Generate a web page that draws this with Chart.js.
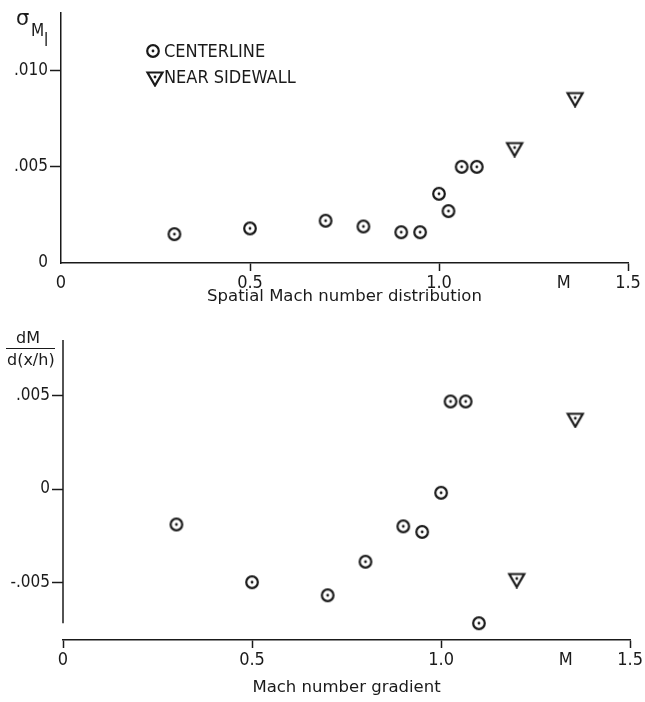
<!DOCTYPE html>
<html>
<head>
<meta charset="utf-8">
<script src="https://cdn.jsdelivr.net/npm/chart.js@4.4.0/dist/chart.umd.min.js"></script>
<style>
  body { margin: 0; background: #fff; width: 645px; height: 702px; position: relative; overflow: hidden; color: #1a1a1a; }
  canvas { position: absolute; left: 0; }
  #top { top: 0; }
  #bot { top: 320px; }
  .lab { position: absolute; white-space: nowrap; line-height: 1; font-family: "DejaVu Sans"; }
</style>
</head>
<body>
<canvas id="top" width="645" height="320"></canvas>
<canvas id="bot" width="645" height="382"></canvas>

<!-- etiquetas de los ejes y -->
<div class="lab" style="left:16px;top:8px;font-size:21px">σ</div>
<div class="lab" style="left:31px;top:22px;font-size:17px;font-family:'DejaVu Sans Condensed'">M</div>
<div class="lab" style="left:44px;top:32px;font-size:17px;font-family:'DejaVu Sans Condensed'">l</div>

<div class="lab" style="left:16px;top:330px;font-size:16px">dM</div>
<div style="position:absolute;left:6px;top:348px;width:49px;height:0;border-top:1.5px solid #1a1a1a"></div>
<div class="lab" style="left:7px;top:352px;font-size:16px">d(x/h)</div>

<script>
// --- DATOS ---
const INK = '#1a1a1a';

// panel superior: sigma_M vs M
const machTopCenter = [0.3, 0.5, 0.7, 0.8, 0.9, 0.95, 1.0, 1.025, 1.06, 1.1];
const sigmaCenter   = [0.0015, 0.0018, 0.0022, 0.0019, 0.0016, 0.0016, 0.0036, 0.0027, 0.0050, 0.0050];
const machTopWall   = [1.2, 1.36];
const sigmaWall     = [0.0060, 0.0086];

// panel inferior: dM/d(x/h) vs M
const machBotCenter = [0.3, 0.5, 0.7, 0.8, 0.9, 0.95, 1.0, 1.025, 1.065, 1.1];
const gradCenter    = [-0.0019, -0.0050, -0.0057, -0.0039, -0.0020, -0.0023, -0.0002, 0.0047, 0.0047, -0.0072];
const machBotWall   = [1.2, 1.355];
const gradWall      = [-0.0048, 0.0038];

// ticks
const xTickVals   = [0, 0.5, 1.0, 1.33, 1.5];
const xTickLabels = ['0', '0.5', '1.0', 'M', '1.5'];
const yTopVals    = [0, 0.005, 0.010];
const yTopLabels  = ['0', '.005', '.010'];
const yBotVals    = [-0.005, 0, 0.005];
const yBotLabels  = ['-.005', '0', '.005'];

const legendLabels = ['CENTERLINE', 'NEAR SIDEWALL'];

// --- SIMBOLOS ---
function circleMarker() {
    const c = document.createElement('canvas');
    c.width = 18; c.height = 18;
    const g = c.getContext('2d');
    g.strokeStyle = INK; g.lineWidth = 2.2;
    g.beginPath(); g.arc(9, 9, 5.8, 0, 2 * Math.PI); g.stroke();
    g.fillStyle = INK;
    g.beginPath(); g.arc(9, 9, 1.4, 0, 2 * Math.PI); g.fill();
    return c;
}

function triangleMarker() {
    const c = document.createElement('canvas');
    c.width = 20; c.height = 20;
    const g = c.getContext('2d');
    g.strokeStyle = INK; g.lineWidth = 2.2; g.lineJoin = 'miter';
    g.beginPath();
    g.moveTo(2.5, 5.5); g.lineTo(17.5, 5.5); g.lineTo(10, 18.5); g.closePath();
    g.stroke();
    g.fillStyle = INK;
    g.beginPath(); g.arc(10, 10, 1.4, 0, 2 * Math.PI); g.fill();
    return c;
}

const circ = circleMarker();
const tri = triangleMarker();

function puntos(xs, ys) {
    return xs.map((x, i) => ({ x: x, y: ys[i] }));
}

// leyenda dibujada a mano dentro del panel superior
const leyendaPlugin = {
    id: 'leyenda',
    afterDraw(chart) {
        if (chart.canvas.id !== 'top') return;
        const ctx = chart.ctx;
        ctx.save();
        ctx.drawImage(circ, 153 - 9, 51 - 9);
        ctx.drawImage(tri, 155 - 10, 77 - 10);
        ctx.fillStyle = INK;
        ctx.font = '18px "DejaVu Sans Condensed"';
        ctx.textBaseline = 'middle';
        ctx.fillText(legendLabels[0], 164, 52);
        ctx.fillText(legendLabels[1], 164, 78);
        ctx.restore();
    }
};

// eje y del panel inferior: no llega hasta el eje x
const ejeYPlugin = {
    id: 'ejeY',
    afterDraw(chart) {
        if (chart.canvas.id !== 'bot') return;
        const y = chart.scales.y;
        const ctx = chart.ctx;
        ctx.save();
        ctx.strokeStyle = INK; ctx.lineWidth = 1.5;
        ctx.beginPath();
        ctx.moveTo(chart.chartArea.left, y.getPixelForValue(0.008));
        ctx.lineTo(chart.chartArea.left, y.getPixelForValue(-0.0072));
        ctx.stroke();
        ctx.restore();
    }
};

function setTicks(vals) {
    return scale => { scale.ticks = vals.map(v => ({ value: v })); };
}

function graficar(id, o) {
    return new Chart(document.getElementById(id), {
        type: 'scatter',
        data: {
            datasets: [
                { label: legendLabels[0], data: o.center, pointStyle: circ, pointRadius: 7 },
                { label: legendLabels[1], data: o.wall, pointStyle: tri, pointRadius: 8 }
            ]
        },
        options: {
            responsive: false,
            animation: false,
            layout: { padding: o.padding },
            plugins: { legend: { display: false }, tooltip: { enabled: false } },
            scales: {
                x: {
                    type: 'linear', min: 0, max: 1.5,
                    afterBuildTicks: setTicks(xTickVals),
                    afterFit: s => { s.height = o.xHeight; },
                    border: { display: true, color: INK, width: 1.5 },
                    grid: {
                        drawOnChartArea: false, drawTicks: true, tickLength: 8, tickWidth: 1.5,
                        tickColor: c => (xTickLabels[c.index] === 'M' || (o.hideX0 && c.index === 0)) ? 'rgba(0,0,0,0)' : INK
                    },
                    ticks: {
                        autoSkip: false, maxRotation: 0, padding: 2, color: INK,
                        font: { family: 'DejaVu Sans Condensed', size: 18 },
                        callback: (v, i) => xTickLabels[i]
                    },
                    title: {
                        display: true, text: o.title, color: INK,
                        font: { family: 'DejaVu Sans', size: 16.5 },
                        padding: { top: 0, bottom: o.titlePad }
                    }
                },
                y: {
                    type: 'linear', min: o.yMin, max: o.yMax,
                    afterBuildTicks: setTicks(o.yVals),
                    afterFit: s => { s.width = o.yWidth; },
                    border: { display: o.yBorder, color: INK, width: 1.5 },
                    grid: {
                        drawOnChartArea: false, drawTicks: true, tickLength: 11, tickWidth: 1.5,
                        tickColor: c => (o.hideY0 && o.yVals[c.index] === 0) ? 'rgba(0,0,0,0)' : INK
                    },
                    ticks: {
                        autoSkip: false, padding: 2, color: INK,
                        font: { family: 'DejaVu Sans Condensed', size: 17 },
                        callback: (v, i) => o.yLabels[i]
                    }
                }
            }
        },
        plugins: [leyendaPlugin, ejeYPlugin]
    });
}

graficar('top', {
    center: puntos(machTopCenter, sigmaCenter),
    wall: puntos(machTopWall, sigmaWall),
    padding: { left: 0, right: 17, top: 13, bottom: 0 },
    xHeight: 57, yWidth: 61,
    yMin: 0, yMax: 0.013,
    yVals: yTopVals, yLabels: yTopLabels,
    yBorder: true, hideX0: true, hideY0: true,
    title: 'Spatial Mach number distribution', titlePad: 13
});

graficar('bot', {
    center: puntos(machBotCenter, gradCenter),
    wall: puntos(machBotWall, gradWall),
    padding: { left: 0, right: 14, top: 20, bottom: 0 },
    xHeight: 62, yWidth: 63,
    yMin: -0.0081, yMax: 0.008,
    yVals: yBotVals, yLabels: yBotLabels,
    yBorder: false, hideX0: false, hideY0: false,
    title: 'Mach number gradient', titlePad: 4
});
</script>
</body>
</html>
